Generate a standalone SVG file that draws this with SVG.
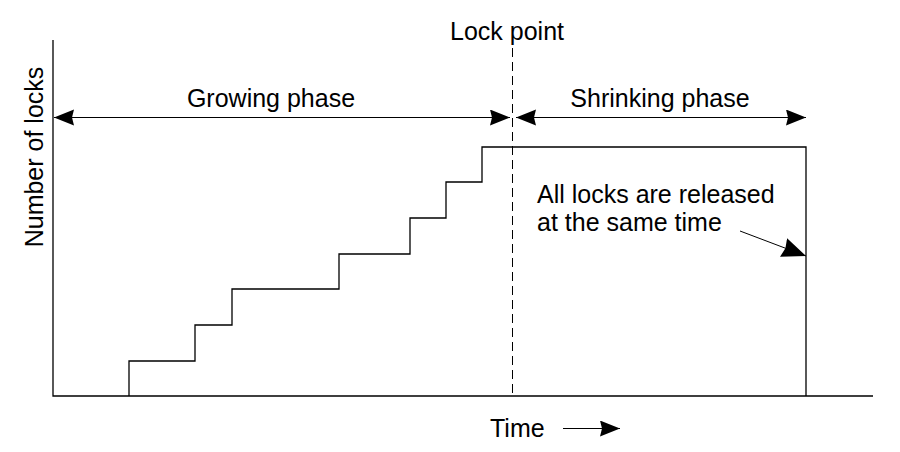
<svg xmlns="http://www.w3.org/2000/svg" width="900" height="452" viewBox="0 0 900 452">
<style>
text{font-family:"Liberation Sans",Arial,sans-serif;font-size:25px;fill:#000}
.ln{stroke:#000;stroke-width:1.3;fill:none}
.thin{stroke:#000;stroke-width:1;fill:none}
</style>
<defs>
<marker id="ah" markerWidth="22" markerHeight="18" refX="20" refY="8" orient="auto" markerUnits="userSpaceOnUse">
<path d="M0,0 L20,8 L0,16 L2,8 Z" fill="#000"/>
</marker>
<marker id="ah2" markerWidth="26" markerHeight="22" refX="24" refY="10" orient="auto" markerUnits="userSpaceOnUse">
<path d="M0,0 L24,10 L0,20 L2,10 Z" fill="#000"/>
</marker>
</defs>
<rect width="900" height="452" fill="#fff"/>
<g id="axes">
<path class="ln" d="M53,40 V396 H873"/>
</g>
<g id="staircase">
<path class="ln" d="M129,396 V361 H195 V325 H232 V289 H339 V254 H410 V218 H446 V182 H482 V147 H806 V396"/>
</g>
<g id="lockpoint">
<line x1="512.5" y1="48" x2="512.5" y2="396" stroke="#000" stroke-width="1" stroke-dasharray="9,5"/>
<text x="507" y="40" text-anchor="middle">Lock point</text>
</g>
<g id="connectors">
<line class="thin" x1="300" y1="117.5" x2="54" y2="117.5" marker-end="url(#ah)"/>
<line class="thin" x1="300" y1="117.5" x2="510" y2="117.5" marker-end="url(#ah)"/>
<line class="thin" x1="660" y1="117.5" x2="516" y2="117.5" marker-end="url(#ah)"/>
<line class="thin" x1="660" y1="117.5" x2="806" y2="117.5" marker-end="url(#ah)"/>
<line class="thin" x1="740" y1="231" x2="806" y2="256" marker-end="url(#ah2)"/>
<line class="thin" x1="563" y1="428.5" x2="620" y2="428.5" marker-end="url(#ah)"/>
</g>
<g id="labels">
<text x="271" y="107" text-anchor="middle">Growing phase</text>
<text x="660" y="107" text-anchor="middle">Shrinking phase</text>
<text x="537" y="203">All locks are released</text>
<text x="537" y="231">at the same time</text>
<text x="490" y="437">Time</text>
<text transform="translate(43,157) rotate(-90)" text-anchor="middle">Number of locks</text>
</g>
</svg>
